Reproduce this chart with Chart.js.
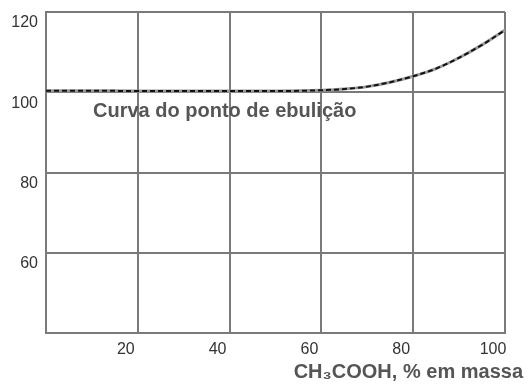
<!DOCTYPE html>
<html>
<head>
<meta charset="utf-8">
<script src="https://cdn.jsdelivr.net/npm/chart.js@4/dist/chart.umd.min.js"></script>
<style>
    body { margin: 0; background: #fff; }
    #wrap { width: 528px; height: 385px; }
</style>
</head>
<body>
<div id="wrap"><canvas id="grafico"></canvas></div>
<script>
// Dados
const fracaoMassa = [0, 10, 20, 30, 40, 50, 60, 65, 70, 75, 80, 85, 90, 95, 100];
const temperatura = [100.4, 100.4, 100.3, 100.3, 100.3, 100.3, 100.5, 100.8, 101.4, 102.5, 104, 105.9, 108.6, 111.8, 115.5];
const ticksY = [40, 60, 80, 100, 120];
const ticksX = [0, 20, 40, 60, 80, 100];

const rotuloCurva = 'Curva do ponto de ebulição';
const tituloX = 'CH\u2083COOH, % em massa';

const pontos = fracaoMassa.map((x, i) => ({ x: x, y: temperatura[i] }));

// Textos desenhados sobre o gráfico
const textos = {
    id: 'textos',
    afterDraw(chart) {
        const ctx = chart.ctx;
        const area = chart.chartArea;
        ctx.save();
        ctx.fillStyle = '#555';
        ctx.font = 'bold 20px "Liberation Sans", Arial, sans-serif';
        ctx.textBaseline = 'middle';
        ctx.textAlign = 'left';
        ctx.fillText(rotuloCurva, area.left + 47, 111);
        ctx.textAlign = 'right';
        ctx.fillText(tituloX, 523, 372);
        ctx.restore();
    }
};

const grade = { color: '#7a7a7a', lineWidth: 2, drawTicks: false };
const semPadding = s => {
    s.paddingTop = 0;
    s.paddingBottom = 0;
    s.paddingLeft = 0;
    s.paddingRight = 0;
};

new Chart(document.getElementById('grafico'), {
    type: 'line',
    data: {
        datasets: [{
            data: pontos,
            borderColor: '#111',
            borderWidth: 2,
            borderDash: [5, 3],
            pointRadius: 0,
            cubicInterpolationMode: 'monotone',
            order: 1
        }, {
            data: pontos,
            borderColor: '#9a9a9a',
            borderWidth: 3,
            pointRadius: 0,
            cubicInterpolationMode: 'monotone',
            order: 2
        }]
    },
    options: {
        responsive: true,
        maintainAspectRatio: false,
        animation: false,
        layout: { padding: { top: 12, right: 23, left: 0, bottom: 0 } },
        plugins: { legend: { display: false }, tooltip: { enabled: false } },
        scales: {
            x: {
                type: 'linear',
                min: 0,
                max: 100,
                afterBuildTicks: s => { s.ticks = ticksX.map(v => ({ value: v })); },
                afterFit: s => { s.height = 52; semPadding(s); },
                grid: grade,
                border: { color: '#7a7a7a', width: 2 },
                ticks: {
                    color: '#333',
                    font: { size: 16, family: '"Liberation Sans", Arial, sans-serif' },
                    padding: 7,
                    labelOffset: -12,
                    callback: v => (v === 0 ? '' : v)
                }
            },
            y: {
                min: 40,
                max: 120,
                afterBuildTicks: s => { s.ticks = ticksY.map(v => ({ value: v })); },
                afterFit: s => { s.width = 46; semPadding(s); },
                grid: grade,
                border: { color: '#7a7a7a', width: 2 },
                ticks: {
                    color: '#333',
                    font: { size: 16, family: '"Liberation Sans", Arial, sans-serif' },
                    padding: 8,
                    labelOffset: 11,
                    callback: v => (v === 40 ? '' : v)
                }
            }
        }
    },
    plugins: [textos]
});
</script>
</body>
</html>
